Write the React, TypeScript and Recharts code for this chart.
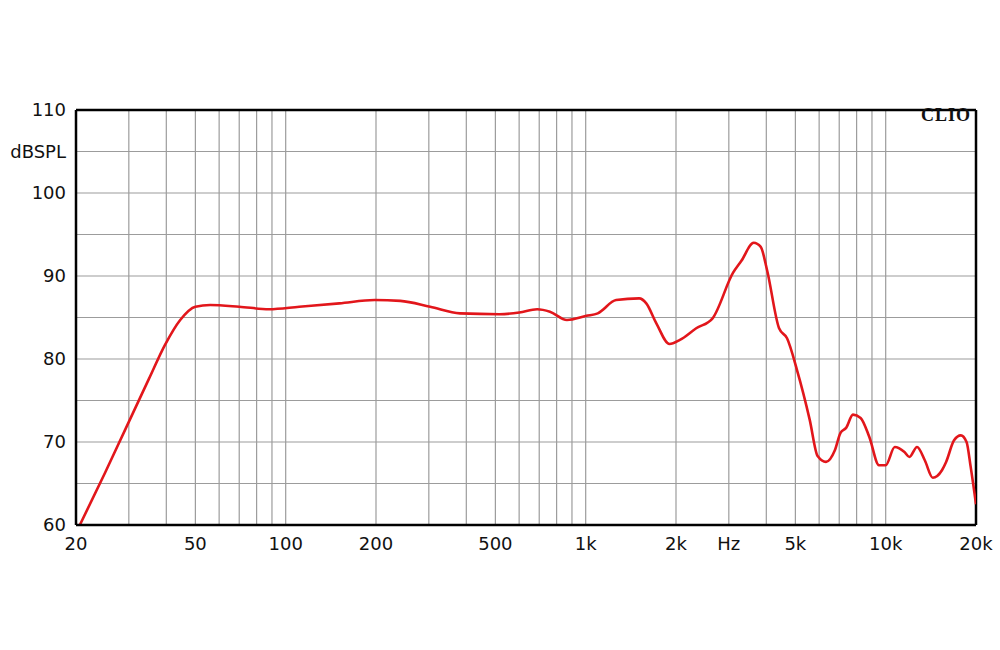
import React from 'react';
import { LineChart, Line, XAxis, YAxis, CartesianGrid, ReferenceLine } from 'recharts';

// Frequency response
const freqs = [
  20.6, 25, 29.1, 35, 39.6, 44.5, 50, 56, 70, 88, 111, 151, 198, 241, 303, 381, 516,
  601, 689, 760, 866, 1005, 1097, 1263, 1508, 1592, 1720, 1903, 2061, 2336, 2648,
  3100, 3300, 3631, 3833, 4024, 4412, 4690, 5060, 5580, 5930, 6325, 6770, 7070,
  7380, 7780, 8250, 8820, 9500, 10000, 10720, 11550, 12000, 12720, 13500, 14350,
  15400, 15900, 16900, 17800, 18600, 19200, 20000,
];
const spl = [
  60.0, 66.3, 71.4, 77.6, 81.7, 84.7, 86.3, 86.5, 86.3, 86.0, 86.3, 86.7, 87.1, 87.0,
  86.3, 85.5, 85.4, 85.6, 86.0, 85.7, 84.7, 85.2, 85.5, 87.1, 87.3, 86.7, 84.3, 81.8,
  82.3, 83.7, 84.9, 90.4, 91.8, 94.0, 93.5, 90.7, 83.7, 82.5, 78.7, 72.7, 68.3, 67.6,
  69.0, 71.1, 71.7, 73.3, 72.9, 70.6, 67.2, 67.2, 69.4, 68.8, 68.2, 69.4, 67.8, 65.7,
  66.6, 67.6, 70.2, 70.8, 70.0, 67.0, 62.5,
];

const xTicks = [20, 50, 100, 200, 500, 1000, 2000, 3000, 5000, 10000, 20000];
const xLabels = ['20', '50', '100', '200', '500', '1k', '2k', 'Hz', '5k', '10k', '20k'];
const yTicks = [60, 65, 70, 75, 80, 85, 90, 95, 100, 105, 110];
const gridFreqs = [
  30, 40, 50, 60, 70, 80, 90, 100, 200, 300, 400, 500, 600, 700, 800, 900,
  1000, 2000, 3000, 4000, 5000, 6000, 7000, 8000, 9000, 10000,
];

const data = freqs.map((f, i) => ({ f, db: spl[i] }));

const tickFont = { fontFamily: '"DejaVu Sans", sans-serif', fontSize: 18, fill: '#111' };
const gridColor = '#9c9c9c';

const App = () => {
  return (
    <div style={{ position: 'absolute', left: 0, top: 0, width: 1000, height: 650, background: '#fff' }}>
      <LineChart width={1000} height={650} data={data} margin={{ top: 110, right: 24, bottom: 95, left: 10 }}>
        <CartesianGrid vertical={false} stroke={gridColor} strokeWidth={1.2} />
        {gridFreqs.map((g) => (
          <ReferenceLine key={g} x={g} stroke={gridColor} strokeWidth={1.2} />
        ))}
        <XAxis
          dataKey="f"
          type="number"
          scale="log"
          domain={[20, 20000]}
          ticks={xTicks}
          tickFormatter={(v) => xLabels[xTicks.indexOf(v)] ?? ''}
          tick={tickFont}
          tickLine={false}
          axisLine={{ stroke: '#000', strokeWidth: 2.5 }}
          height={30}
          tickMargin={6}
          allowDataOverflow
        />
        <YAxis
          type="number"
          domain={[60, 110]}
          ticks={yTicks}
          tickFormatter={(v) => (v % 10 === 0 ? String(v) : v === 105 ? 'dBSPL' : '')}
          tick={tickFont}
          tickLine={false}
          axisLine={{ stroke: '#000', strokeWidth: 2.5 }}
          width={66}
          tickMargin={4}
          interval={0}
        />
        <ReferenceLine y={110} stroke="#000" strokeWidth={2.5} />
        <ReferenceLine x={20000} stroke="#000" strokeWidth={2.5} />
        <Line
          type="monotone"
          dataKey="db"
          stroke="#e2161b"
          strokeWidth={2.6}
          dot={false}
          isAnimationActive={false}
        />
      </LineChart>
      <div
        style={{
          position: 'absolute',
          left: 921,
          top: 105,
          fontFamily: '"Liberation Serif", serif',
          fontWeight: 'bold',
          fontSize: 18,
          letterSpacing: 1,
          color: '#111',
        }}
      >
        CLIO
      </div>
    </div>
  );
};

export default App;
